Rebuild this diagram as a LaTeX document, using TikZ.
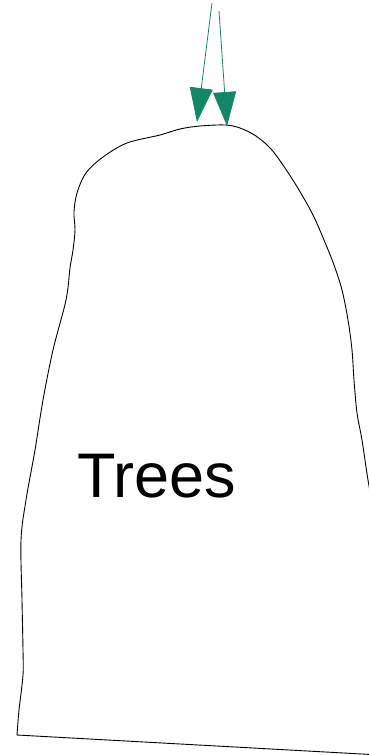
\documentclass[tikz,border=0pt]{standalone}
\usepackage{fontspec}
\setmainfont{Liberation Sans}
\usetikzlibrary{arrows.meta, positioning}
\definecolor{feedgreen}{HTML}{168669}

\begin{document}
\begin{tikzpicture}[x=1pt, y=-1pt,
    feed/.style={draw=feedgreen, line width=0.8pt, -{Triangle[length=34pt, width=23pt]}},
    outline/.style={draw=black, line width=0.9pt}]
    % Page frame
    \clip (0,0) rectangle (369,755);
    % Blob outline
    \draw[outline] plot[smooth, tension=0.55] coordinates {
        (375,520) (368,480) (362,440) (357,413) (354,380) (352,350) (348,320)
        (342,290) (334,265) (324,240) (313,215) (299,190) (285,168) (271,149)
        (256,136) (240,128) (225,125) (200,126) (180,129) (160,135) (127,143)
        (103,157) (86,173) (77,193) (74,212) (75,230) (73,250) (70,268)
        (66,300) (53,350) (43,400) (35,450) (26,500) (21,540) (22,600)
        (23,650) (23,675) (19,710) (17,735)}
        -- (380,755);
    % Label
    \node[font=\fontsize{63}{72}\selectfont] (trees) at (157,476) {Trees};
    % Incoming arrows
    \coordinate (src1) at (212,3);
    \coordinate (src2) at (219,11);
    \coordinate (top1) at (197,122);
    \coordinate (top2) at (227,126);
    \draw[feed] (src1) -- (top1);
    \draw[feed] (src2) -- (top2);
\end{tikzpicture}
\end{document}
